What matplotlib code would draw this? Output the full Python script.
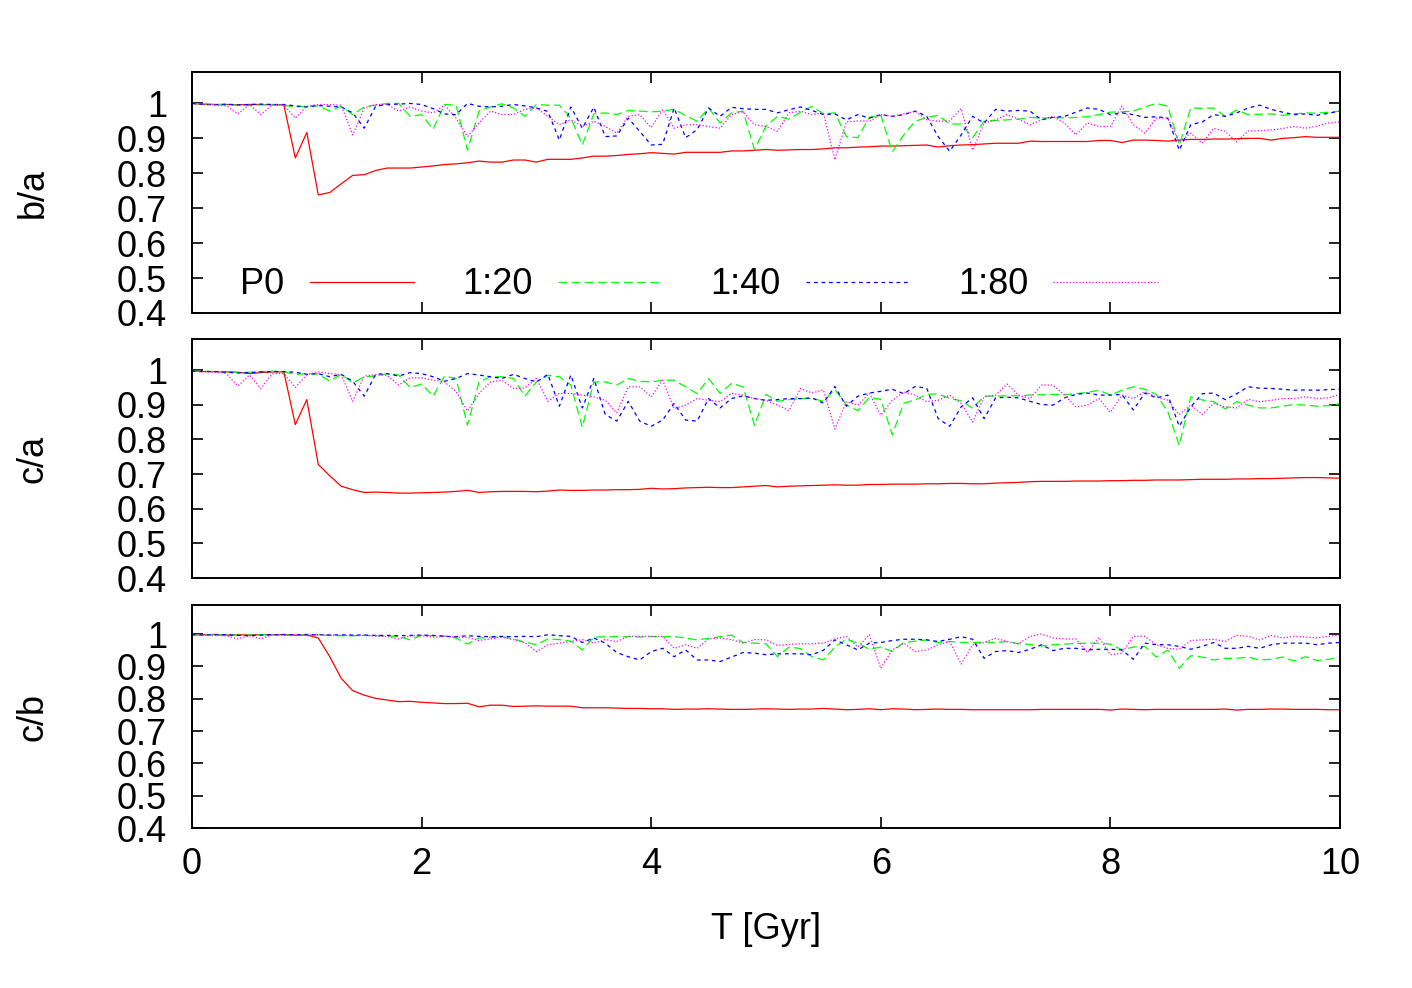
import numpy as np
import matplotlib
matplotlib.use('Agg')
import matplotlib.pyplot as plt

plt.rcParams['font.family'] = ['Liberation Sans', 'DejaVu Sans']

# time axis, 0.1 Gyr snapshots
t = np.round(np.arange(0, 10.01, 0.1), 1)

# ---- b/a ----
ba_p0 = [1.0, 0.998, 0.997, 0.997, 0.996, 0.997, 0.997, 0.996, 0.996,
         0.844, 0.917, 0.738, 0.745, 0.770, 0.794, 0.796, 0.808, 0.815, 0.815, 0.815,
         0.818, 0.821, 0.825, 0.827, 0.830, 0.835, 0.832, 0.832, 0.838, 0.838,
         0.832, 0.840, 0.840, 0.840, 0.844, 0.849, 0.849, 0.851, 0.854, 0.856,
         0.859, 0.857, 0.855, 0.860, 0.860, 0.860, 0.860, 0.864, 0.864, 0.866,
         0.868, 0.866, 0.867, 0.868, 0.868, 0.870, 0.873, 0.873, 0.875, 0.876,
         0.878, 0.878, 0.879, 0.880, 0.881, 0.875, 0.879, 0.881, 0.882, 0.884,
         0.886, 0.886, 0.886, 0.892, 0.891, 0.891, 0.891, 0.891, 0.891, 0.894,
         0.894, 0.888, 0.895, 0.895, 0.894, 0.892, 0.895, 0.897, 0.897, 0.898,
         0.898, 0.899, 0.900, 0.900, 0.895, 0.900, 0.902, 0.905, 0.903, 0.903,
         0.903]
ba_20 = [1.0, 0.998, 0.997, 0.996, 0.995, 0.994, 0.996, 0.997, 0.995,
         0.990, 0.992, 0.993, 0.978, 0.992, 0.968, 0.990, 0.995, 1.0, 1.0, 0.963,
         0.968, 0.926, 0.997, 0.995, 0.866, 0.978, 0.990, 0.999, 0.987, 0.963,
         0.997, 0.995, 0.995, 0.958, 0.881, 0.970, 0.973, 0.968, 0.980, 0.978,
         0.976, 0.978, 0.983, 0.965, 0.949, 0.987, 0.944, 0.973, 0.978, 0.868,
         0.935, 0.963, 0.955, 0.975, 0.992, 0.970, 0.973, 0.905, 0.902, 0.960,
         0.966, 0.862, 0.910, 0.949, 0.960, 0.966, 0.941, 0.941, 0.902, 0.949,
         0.951, 0.953, 0.955, 0.960, 0.958, 0.959, 0.959, 0.960, 0.962, 0.968,
         0.975, 0.976, 0.978, 0.990, 1.0, 0.992, 0.881, 0.987, 0.986, 0.987,
         0.963, 0.981, 0.968, 0.969, 0.970, 0.966, 0.970, 0.973, 0.972, 0.975,
         0.978]
ba_40 = [1.0, 0.997, 0.996, 0.998, 0.996, 0.997, 0.998, 0.997, 0.997,
         0.993, 0.990, 0.994, 0.992, 0.990, 0.973, 0.929, 0.992, 0.997, 0.998, 1.0,
         0.997, 0.985, 0.970, 0.968, 1.0, 0.992, 0.990, 0.992, 0.997, 0.993,
         0.987, 0.977, 0.895, 0.990, 0.929, 0.989, 0.905, 0.907, 0.958, 0.920,
         0.881, 0.883, 0.987, 0.902, 0.925, 0.987, 0.963, 0.989, 0.985, 0.983,
         0.983, 0.973, 0.982, 0.990, 0.980, 0.968, 0.970, 0.953, 0.968, 0.958,
         0.968, 0.963, 0.968, 0.978, 0.963, 0.905, 0.863, 0.910, 0.963, 0.944,
         0.983, 0.978, 0.980, 0.978, 0.953, 0.960, 0.963, 0.975, 0.987, 0.983,
         0.968, 0.973, 0.968, 0.960, 0.962, 0.958, 0.866, 0.939, 0.947, 0.968,
         0.963, 0.973, 0.987, 0.995, 0.983, 0.975, 0.968, 0.970, 0.966, 0.972,
         0.978]
ba_80 = [1.0, 0.998, 0.996, 0.993, 0.970, 0.997, 0.968, 0.997, 0.995,
         0.958, 0.992, 0.997, 0.997, 0.995, 0.910, 0.987, 0.997, 0.997, 0.978, 0.990,
         0.978, 0.973, 0.995, 0.958, 0.905, 0.944, 0.978, 0.968, 0.968, 0.983,
         0.987, 0.963, 0.939, 0.953, 0.934, 0.949, 0.934, 0.915, 0.963, 0.968,
         0.931, 0.982, 0.929, 0.939, 0.939, 0.934, 0.929, 0.968, 0.976, 0.939,
         0.934, 0.920, 0.973, 0.978, 0.968, 0.973, 0.839, 0.947, 0.950, 0.949,
         0.968, 0.963, 0.970, 0.978, 0.953, 0.949, 0.950, 0.985, 0.866, 0.944,
         0.953, 0.968, 0.955, 0.939, 0.953, 0.963, 0.944, 0.910, 0.944, 0.934,
         0.934, 0.992, 0.939, 0.915, 0.958, 0.958, 0.890, 0.915, 0.886, 0.929,
         0.920, 0.890, 0.921, 0.922, 0.924, 0.928, 0.934, 0.929, 0.935, 0.944,
         0.947]

# ---- c/a ----
ca_p0 = [0.997, 0.996, 0.996, 0.995, 0.994, 0.990, 0.993, 0.995, 0.995,
         0.843, 0.915, 0.728, 0.695, 0.665, 0.655, 0.647, 0.648, 0.647, 0.645, 0.645,
         0.646, 0.647, 0.648, 0.650, 0.653, 0.647, 0.649, 0.650, 0.650, 0.650,
         0.649, 0.651, 0.654, 0.653, 0.653, 0.654, 0.654, 0.655, 0.655, 0.656,
         0.659, 0.657, 0.658, 0.660, 0.661, 0.662, 0.661, 0.661, 0.663, 0.665,
         0.667, 0.663, 0.665, 0.666, 0.667, 0.668, 0.669, 0.668, 0.668, 0.670,
         0.670, 0.671, 0.671, 0.671, 0.672, 0.672, 0.673, 0.673, 0.672, 0.672,
         0.674, 0.675, 0.676, 0.678, 0.679, 0.679, 0.679, 0.680, 0.680, 0.680,
         0.681, 0.681, 0.682, 0.682, 0.683, 0.683, 0.683, 0.684, 0.685, 0.685,
         0.685, 0.686, 0.686, 0.687, 0.687, 0.688, 0.689, 0.690, 0.690, 0.689,
         0.688]
ca_20 = [0.997, 0.997, 0.996, 0.995, 0.993, 0.994, 0.996, 0.997, 0.995,
         0.988, 0.990, 0.989, 0.968, 0.988, 0.963, 0.981, 0.983, 0.990, 0.986, 0.950,
         0.960, 0.925, 0.983, 0.976, 0.841, 0.966, 0.981, 0.981, 0.976, 0.925,
         0.966, 0.985, 0.981, 0.957, 0.835, 0.966, 0.966, 0.957, 0.976, 0.968,
         0.966, 0.971, 0.971, 0.952, 0.932, 0.976, 0.933, 0.962, 0.952, 0.841,
         0.930, 0.910, 0.915, 0.918, 0.919, 0.910, 0.944, 0.900, 0.883, 0.921,
         0.916, 0.813, 0.905, 0.914, 0.930, 0.932, 0.918, 0.912, 0.890, 0.925,
         0.925, 0.926, 0.926, 0.928, 0.929, 0.930, 0.929, 0.932, 0.936, 0.942,
         0.928, 0.942, 0.952, 0.945, 0.930, 0.880, 0.783, 0.923, 0.914, 0.909,
         0.888, 0.909, 0.899, 0.891, 0.891, 0.896, 0.901, 0.899, 0.896, 0.898,
         0.903]
ca_40 = [0.997, 0.996, 0.996, 0.994, 0.992, 0.993, 0.995, 0.996, 0.996,
         0.994, 0.988, 0.990, 0.981, 0.988, 0.968, 0.925, 0.988, 0.990, 0.983, 0.993,
         0.990, 0.981, 0.968, 0.976, 0.990, 0.986, 0.981, 0.976, 0.988, 0.976,
         0.966, 0.988, 0.896, 0.986, 0.891, 0.976, 0.872, 0.853, 0.910, 0.853,
         0.838, 0.856, 0.904, 0.856, 0.853, 0.918, 0.891, 0.918, 0.926, 0.918,
         0.913, 0.915, 0.918, 0.918, 0.920, 0.905, 0.953, 0.896, 0.925, 0.934,
         0.939, 0.945, 0.932, 0.953, 0.948, 0.860, 0.838, 0.894, 0.920, 0.860,
         0.920, 0.922, 0.920, 0.910, 0.901, 0.899, 0.920, 0.930, 0.934, 0.928,
         0.928, 0.930, 0.885, 0.934, 0.920, 0.928, 0.838, 0.894, 0.932, 0.934,
         0.915, 0.932, 0.952, 0.948, 0.947, 0.945, 0.942, 0.943, 0.942, 0.944,
         0.945]
ca_80 = [0.997, 0.996, 0.994, 0.990, 0.954, 0.986, 0.947, 0.990, 0.990,
         0.950, 0.987, 0.995, 0.990, 0.987, 0.910, 0.983, 0.987, 0.985, 0.957, 0.978,
         0.978, 0.971, 0.966, 0.938, 0.882, 0.933, 0.966, 0.971, 0.947, 0.949,
         0.976, 0.910, 0.933, 0.933, 0.928, 0.923, 0.913, 0.877, 0.952, 0.952,
         0.923, 0.971, 0.889, 0.899, 0.918, 0.913, 0.909, 0.933, 0.928, 0.918,
         0.913, 0.899, 0.883, 0.947, 0.934, 0.943, 0.830, 0.909, 0.899, 0.933,
         0.870, 0.913, 0.937, 0.928, 0.909, 0.913, 0.928, 0.904, 0.850, 0.923,
         0.928, 0.960, 0.928, 0.918, 0.957, 0.957, 0.928, 0.894, 0.899, 0.918,
         0.878, 0.928, 0.918, 0.938, 0.923, 0.913, 0.872, 0.899, 0.872, 0.904,
         0.894, 0.891, 0.916, 0.909, 0.913, 0.918, 0.918, 0.923, 0.918, 0.920,
         0.930]

# ---- c/b ----
cb_p0 = [0.998, 0.998, 0.999, 0.997, 0.998, 0.997, 0.998, 0.998, 0.998, 0.997, 0.997,
         0.988, 0.930, 0.863, 0.825, 0.811, 0.801, 0.796, 0.791, 0.792,
         0.789, 0.787, 0.785, 0.785, 0.786, 0.775, 0.780, 0.780, 0.776, 0.777,
         0.778, 0.777, 0.777, 0.777, 0.772, 0.772, 0.772, 0.771, 0.770, 0.770,
         0.769, 0.769, 0.767, 0.768, 0.768, 0.769, 0.768, 0.767, 0.767, 0.768,
         0.769, 0.768, 0.767, 0.768, 0.768, 0.770, 0.768, 0.766, 0.767, 0.769,
         0.766, 0.769, 0.768, 0.766, 0.767, 0.768, 0.767, 0.767, 0.766, 0.766,
         0.766, 0.766, 0.766, 0.766, 0.767, 0.767, 0.767, 0.767, 0.767, 0.767,
         0.765, 0.768, 0.767, 0.766, 0.767, 0.767, 0.767, 0.767, 0.767, 0.767,
         0.768, 0.765, 0.767, 0.767, 0.768, 0.768, 0.767, 0.767, 0.767, 0.766,
         0.766]
cb_20 = [0.998, 0.998, 0.998, 0.997, 0.997, 0.997, 0.998, 0.998, 0.997, 0.997,
         0.997, 0.997, 0.996, 0.995, 0.995, 0.996, 0.995, 0.994, 0.993, 0.982,
         0.996, 0.995, 0.994, 0.988, 0.969, 0.988, 0.990, 0.992, 0.985, 0.975,
         0.967, 0.985, 0.983, 0.978, 0.951, 0.990, 0.992, 0.992, 0.992, 0.991,
         0.992, 0.992, 0.992, 0.988, 0.982, 0.987, 0.992, 0.997, 0.974, 0.972,
         0.970, 0.930, 0.960, 0.955, 0.930, 0.920, 0.960, 0.984, 0.972, 0.953,
         0.960, 0.946, 0.974, 0.978, 0.982, 0.974, 0.977, 0.974, 0.974, 0.975,
         0.974, 0.977, 0.970, 0.968, 0.963, 0.967, 0.969, 0.971, 0.972, 0.972,
         0.969, 0.951, 0.960, 0.962, 0.929, 0.951, 0.894, 0.933, 0.929, 0.920,
         0.925, 0.925, 0.929, 0.920, 0.922, 0.929, 0.917, 0.930, 0.918, 0.922,
         0.928]
cb_40 = [0.998, 0.997, 0.998, 0.998, 0.996, 0.995, 0.997, 0.998, 0.999, 0.998,
         0.999, 0.998, 0.997, 0.998, 0.997, 0.997, 0.996, 0.996, 0.995, 0.996,
         0.997, 0.996, 0.993, 0.992, 0.995, 0.993, 0.992, 0.993, 0.992, 0.993,
         0.992, 0.998, 0.995, 0.993, 0.974, 0.988, 0.972, 0.943, 0.930, 0.920,
         0.946, 0.956, 0.930, 0.951, 0.920, 0.920, 0.915, 0.929, 0.943, 0.941,
         0.936, 0.939, 0.939, 0.939, 0.936, 0.950, 0.982, 0.967, 0.951, 0.972,
         0.974, 0.980, 0.984, 0.984, 0.982, 0.977, 0.984, 0.992, 0.984, 0.925,
         0.946, 0.949, 0.943, 0.953, 0.967, 0.949, 0.956, 0.956, 0.951, 0.953,
         0.953, 0.951, 0.922, 0.972, 0.967, 0.967, 0.962, 0.953, 0.962, 0.974,
         0.956, 0.956, 0.962, 0.956, 0.967, 0.972, 0.972, 0.972, 0.967, 0.972,
         0.974]
cb_80 = [0.998, 0.997, 0.996, 0.995, 0.985, 0.995, 0.985, 0.998, 0.997, 0.996,
         0.997, 0.998, 0.997, 0.996, 0.995, 0.996, 0.994, 0.992, 0.985, 0.994,
         0.995, 0.990, 0.993, 0.990, 0.990, 0.980, 0.985, 0.990, 0.983, 0.973,
         0.946, 0.967, 0.972, 0.977, 0.983, 0.972, 0.983, 0.977, 0.993, 0.993,
         0.993, 0.993, 0.956, 0.967, 0.956, 0.985, 0.988, 0.983, 0.972, 0.983,
         0.982, 0.965, 0.968, 0.970, 0.970, 0.972, 0.985, 0.993, 0.960, 0.998,
         0.894, 0.951, 0.972, 0.946, 0.951, 0.967, 0.977, 0.907, 0.967, 0.974,
         0.987, 0.977, 0.970, 0.993, 1.0, 0.988, 0.985, 0.985, 0.943, 0.990,
         0.936, 0.941, 0.993, 0.993, 0.967, 0.956, 0.953, 0.980, 0.982, 0.984,
         0.977, 0.996, 0.993, 0.982, 0.996, 0.988, 0.993, 0.991, 0.988, 0.993,
         0.997]

labels = ['P0', '1:20', '1:40', '1:80']
ylabels = ['b/a', 'c/a', 'c/b']
panels = [[ba_p0, ba_20, ba_40, ba_80],
          [ca_p0, ca_20, ca_40, ca_80],
          [cb_p0, cb_20, cb_40, cb_80]]
yticks = [0.4, 0.5, 0.6, 0.7, 0.8, 0.9, 1.0]
ytick_labels = ['0.4', '0.5', '0.6', '0.7', '0.8', '0.9', '1']
xticks = [0, 2, 4, 6, 8, 10]

colors = ['#ff0000', '#00ff00', '#0000ff', '#ff00ff']
styles = ['-', (0, (7, 3.5)), (0, (3, 3)), (0, (1, 1.6))]

W, H = 1412, 988
fig = plt.figure(figsize=(W / 100, H / 100), dpi=100)
# panel boxes in pixels: (top, bottom)
boxes = [(72, 313), (339, 578), (605, 828)]
x0, x1 = 192, 1340

axes = []
for i, (top, bot) in enumerate(boxes):
    ax = fig.add_axes([x0 / W, 1 - bot / H, (x1 - x0) / W, (bot - top) / H])
    for y, lab, c, ls in zip(panels[i], labels, colors, styles):
        ax.plot(t, y, color=c, linestyle=ls, linewidth=0.9, label=lab)
    ax.set_xlim(0, 10)
    ax.set_ylim(0.4, 1.09)
    ax.set_yticks(yticks)
    ax.set_yticklabels(ytick_labels)
    ax.set_xticks(xticks)
    ax.tick_params(direction='in', length=8, width=1.2, top=True, right=True,
                   labelsize=26, pad=14)
    ax.tick_params(axis='y', pad=18)
    for s in ax.spines.values():
        s.set_linewidth(1.4)
    ax.set_ylabel(ylabels[i], fontsize=26)
    ax.yaxis.set_label_coords(-0.123, 0.5)
    if i < 2:
        ax.set_xticklabels([])
    axes.append(ax)

axes[2].set_xticklabels([str(v) for v in xticks])
axes[2].set_xlabel('T [Gyr]', fontsize=26)
axes[2].xaxis.set_label_coords(0.5, -0.375)

axes[0].legend(loc='center left', bbox_to_anchor=(0.042, 0.117), ncol=4,
               frameon=False, fontsize=26, markerfirst=False,
               handlelength=2.9, handletextpad=0.7, columnspacing=1.32,
               borderpad=0, borderaxespad=0)

plt.savefig('out.png', dpi=100)
